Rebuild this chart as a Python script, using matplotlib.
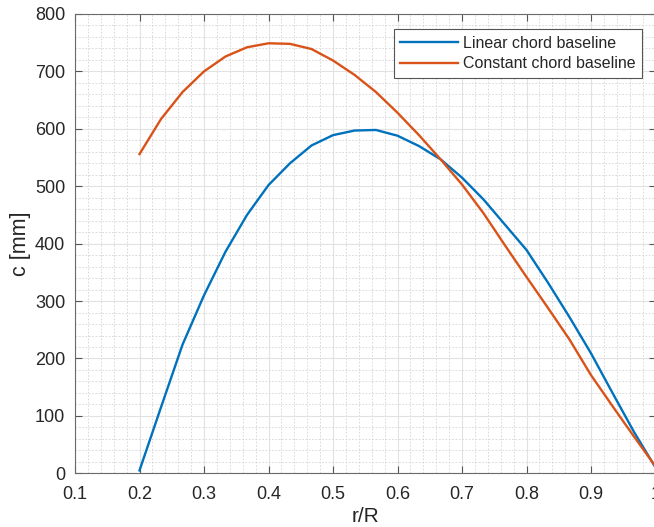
import matplotlib
matplotlib.use("Agg")
import matplotlib.pyplot as plt
import numpy as np
from matplotlib.ticker import MultipleLocator

plt.rcParams['font.family'] = ['Liberation Sans', 'DejaVu Sans']

# radial stations r/R
r_R = np.linspace(0.2, 1.0, 25)

# chord distributions [mm]
c_linear = [5, 115, 224, 310, 386, 450, 502, 540, 571, 589, 597, 598, 588,
            570, 547, 515, 477, 433, 389, 332, 272, 209, 140, 72, 10]
c_constant = [556, 617, 664, 700, 726, 742, 749, 748, 739, 719, 694, 664, 628,
              589, 547, 503, 453, 397, 342, 288, 233, 171, 117, 64, 12]

labels = ["Linear chord baseline", "Constant chord baseline"]
colors = ["#0072BD", "#D95319"]

fig = plt.figure(figsize=(6.54, 5.27), dpi=100)
ax = fig.add_axes([75 / 654, (527 - 473.3) / 527, 580.5 / 654, 459.3 / 527])

ax.plot(r_R, c_linear, color=colors[0], lw=1.7, label=labels[0])
ax.plot(r_R, c_constant, color=colors[1], lw=1.7, label=labels[1])

ax.set_xlim(0.1, 1.0)
ax.set_ylim(0, 800)
ax.xaxis.set_minor_locator(MultipleLocator(0.02))
ax.yaxis.set_major_locator(MultipleLocator(100))
ax.yaxis.set_minor_locator(MultipleLocator(20))
ax.set_xticks(np.arange(0.1, 1.01, 0.1))
ax.set_xticklabels(["0.1", "0.2", "0.3", "0.4", "0.5", "0.6", "0.7", "0.8", "0.9", "1"])

ax.grid(which="major", color="#e2e2e2", lw=0.8, ls="-")
ax.grid(which="minor", color="#d4d4d4", lw=0.6, ls=(0, (2, 2)))
ax.set_axisbelow(True)

ax.tick_params(which="major", direction="in", length=5, width=0.8, color="#555555",
               top=True, right=True, labelsize=13, labelcolor="#262626")
ax.tick_params(axis="x", pad=9)
ax.tick_params(axis="y", pad=7)
ax.tick_params(which="minor", length=0)
for s in ax.spines.values():
    s.set_color("#6a6a6a")
    s.set_linewidth(0.8)

ax.set_xlabel("r/R", fontsize=15, color="#262626", labelpad=3)
ax.set_ylabel("c [mm]", fontsize=15.5, color="#262626", labelpad=3)

leg = ax.legend(loc="upper right", bbox_to_anchor=(641.7 / 654, 1 - 29.3 / 527),
                bbox_transform=fig.transFigure, borderaxespad=0, fontsize=11.5,
                frameon=True, fancybox=False, handlelength=3.6, handletextpad=0.3,
                labelspacing=0.35, borderpad=0.4)
leg.get_frame().set_edgecolor("#555555")
leg.get_frame().set_linewidth(0.8)
leg.get_frame().set_alpha(1)
for t in leg.get_texts():
    t.set_color("#262626")

fig.savefig("out.png", dpi=100)
